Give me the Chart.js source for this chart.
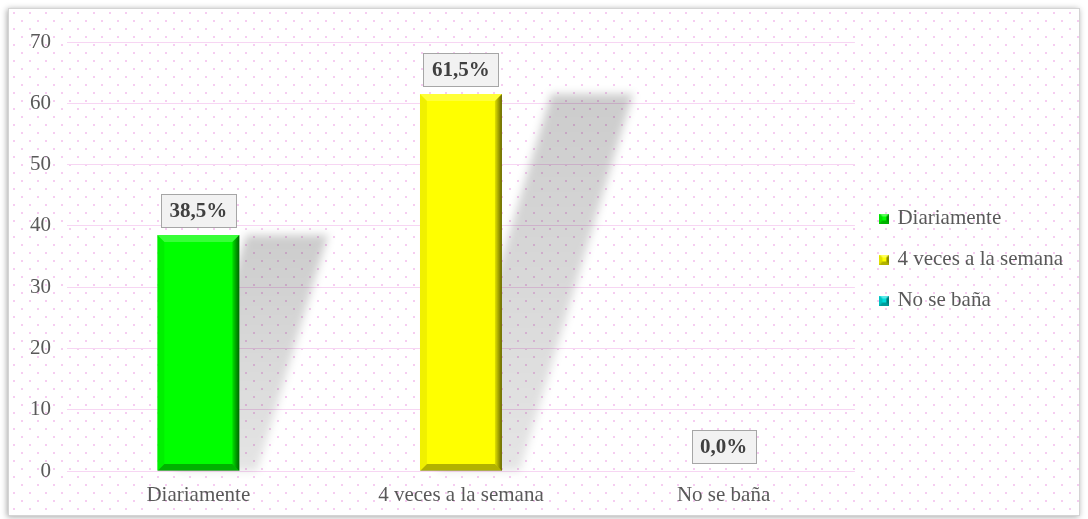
<!DOCTYPE html>
<html><head><meta charset="utf-8">
<script src="https://cdn.jsdelivr.net/npm/chart.js@4.4.1/dist/chart.umd.min.js"></script>
<style>html,body{margin:0;padding:0;background:#fff;}canvas{display:block}</style>
</head><body>
<canvas id="c" width="1088" height="519"></canvas>
<script>
const categories = ['Diariamente', '4 veces a la semana', 'No se baña'];
const values = [38.5, 61.5, 0.0];
const barColors = ['#00ff00', '#ffff00', '#00dede'];
const yMin = 0, yMax = 70, yStep = 10;

const FONT = "'Liberation Serif', 'Times New Roman', serif";
Chart.defaults.font.family = FONT;
Chart.defaults.font.size = 21;
Chart.defaults.color = '#595959';

function fmt(v) { return v.toFixed(1).replace('.', ',') + '%'; }

function markerImage(color) {
  const c = document.createElement('canvas');
  c.width = 10; c.height = 10;
  const g = c.getContext('2d');
  g.fillStyle = color; g.fillRect(0, 0, 10, 10);
  g.fillStyle = 'rgba(255,255,255,0.35)';
  g.beginPath(); g.moveTo(0,0); g.lineTo(10,0); g.lineTo(7,3); g.lineTo(3,3); g.fill();
  g.fillStyle = 'rgba(0,0,0,0.45)';
  g.beginPath(); g.moveTo(10,0); g.lineTo(10,10); g.lineTo(7,7); g.lineTo(7,3); g.fill();
  g.fillStyle = 'rgba(0,0,0,0.3)';
  g.beginPath(); g.moveTo(0,10); g.lineTo(10,10); g.lineTo(7,7); g.lineTo(3,7); g.fill();
  g.fillStyle = 'rgba(0,0,0,0.12)';
  g.beginPath(); g.moveTo(0,0); g.lineTo(3,3); g.lineTo(3,7); g.lineTo(0,10); g.fill();
  return c;
}
const markers = barColors.map(markerImage);

const framePlugin = {
  id: 'frame',
  beforeDraw(chart) {
    const ctx = chart.ctx, W = chart.width, H = chart.height;
    ctx.save();
    ctx.fillStyle = '#fff'; ctx.fillRect(0, 0, W, H);
    ctx.shadowColor = 'rgba(0,0,0,0.35)'; ctx.shadowBlur = 6; ctx.shadowOffsetX = -1; ctx.shadowOffsetY = 1;
    ctx.fillRect(8, 8, W - 16, H - 11);
    ctx.shadowColor = 'transparent';
    ctx.fillStyle = '#f6cdf1';
    let row = 0;
    for (let y = 12; y < H - 4; y += 8, row++) {
      for (let x = 13 + (row % 2 ? 8 : 0); x < W - 9; x += 16) ctx.fillRect(x, y, 2, 2);
    }
    ctx.strokeStyle = '#d4d4d4'; ctx.lineWidth = 1;
    ctx.strokeRect(8.5, 8.5, W - 17, H - 12);
    ctx.restore();
  }
};

const shadowPlugin = {
  id: 'barShadow',
  beforeDatasetsDraw(chart) {
    const ctx = chart.ctx;
    const base = chart.scales.y.getPixelForValue(0);
    ctx.save();
    ctx.filter = 'blur(4px)';
    chart.getDatasetMeta(0).data.forEach(bar => {
      const p = bar.getProps(['x', 'y', 'width'], true);
      const h = base - p.y;
      if (h < 2) return;
      const k = 0.3, off = 18;
      const l = p.x - p.width / 2 + off, r = p.x + p.width / 2 + off;
      const grad = ctx.createLinearGradient(0, p.y, 0, base);
      grad.addColorStop(0, 'rgba(0,0,0,0.2)');
      grad.addColorStop(1, 'rgba(0,0,0,0.1)');
      ctx.fillStyle = grad;
      ctx.beginPath();
      ctx.moveTo(l, base); ctx.lineTo(l + k * h, p.y); ctx.lineTo(r + k * h, p.y); ctx.lineTo(r, base);
      ctx.closePath(); ctx.fill();
    });
    ctx.restore();
  }
};

const bevelLabelPlugin = {
  id: 'bevelLabels',
  afterDatasetsDraw(chart) {
    const ctx = chart.ctx;
    const base = chart.scales.y.getPixelForValue(0);
    ctx.save();
    chart.getDatasetMeta(0).data.forEach((bar, i) => {
      const p = bar.getProps(['x', 'y', 'width'], true);
      const L = p.x - p.width / 2, R = p.x + p.width / 2, T = p.y, B = base;
      const h = B - T;
      if (h > 2) {
        const b = Math.min(7, h / 2, p.width / 2);
        ctx.fillStyle = 'rgba(255,255,255,0.22)';
        ctx.beginPath(); ctx.moveTo(L, T); ctx.lineTo(R, T); ctx.lineTo(R - b, T + b); ctx.lineTo(L + b, T + b); ctx.closePath(); ctx.fill();
        ctx.fillStyle = 'rgba(0,0,0,0.06)';
        ctx.beginPath(); ctx.moveTo(L, T); ctx.lineTo(L + b, T + b); ctx.lineTo(L + b, B - b); ctx.lineTo(L, B); ctx.closePath(); ctx.fill();
        const g = ctx.createLinearGradient(R - b, 0, R, 0);
        g.addColorStop(0, 'rgba(0,0,0,0.12)'); g.addColorStop(1, 'rgba(0,0,0,0.6)');
        ctx.fillStyle = g;
        ctx.beginPath(); ctx.moveTo(R, T); ctx.lineTo(R, B); ctx.lineTo(R - b, B - b); ctx.lineTo(R - b, T + b); ctx.closePath(); ctx.fill();
        ctx.fillStyle = 'rgba(0,0,0,0.3)';
        ctx.beginPath(); ctx.moveTo(L, B); ctx.lineTo(R, B); ctx.lineTo(R - b, B - b); ctx.lineTo(L + b, B - b); ctx.closePath(); ctx.fill();
      }
      const text = fmt(values[i]);
      ctx.font = 'bold 21px ' + FONT;
      const tw = ctx.measureText(text).width;
      const bw = Math.round(tw + 17), bh = 33;
      const bx = Math.round(p.x - bw / 2) + 0.5, by = Math.round(T - 8 - bh) + 0.5;
      ctx.fillStyle = '#f2f2f2'; ctx.fillRect(bx, by, bw, bh);
      ctx.strokeStyle = '#a6a6a6'; ctx.lineWidth = 1; ctx.strokeRect(bx, by, bw, bh);
      ctx.fillStyle = '#404040'; ctx.textAlign = 'center'; ctx.textBaseline = 'middle';
      ctx.fillText(text, p.x, by + bh / 2 + 1);
    });
    ctx.restore();
  }
};

const legendShift = {
  id: 'legendShift',
  afterLayout(chart) {
    const lg = chart.legend;
    if (lg) { lg.left += 7; lg.right += 7; lg.top -= 21; lg.bottom -= 21; }
  }
};

new Chart(document.getElementById('c'), {
  type: 'bar',
  data: {
    labels: categories,
    datasets: [{
      data: values,
      backgroundColor: barColors,
      borderWidth: 0,
      categoryPercentage: 1,
      barPercentage: 0.312
    }]
  },
  options: {
    responsive: false,
    animation: false,
    events: [],
    layout: { padding: { left: 18, right: 22, top: 42, bottom: 0 } },
    plugins: {
      tooltip: { enabled: false },
      legend: {
        position: 'right',
        labels: {
          font: { family: FONT, size: 21 },
          color: '#595959',
          padding: 20,
          usePointStyle: true,
          pointStyleWidth: 5,
          generateLabels() {
            return categories.map((c, i) => ({
              text: c, pointStyle: markers[i], fillStyle: barColors[i],
              strokeStyle: barColors[i], lineWidth: 0, hidden: false, index: i, datasetIndex: 0,
              fontColor: '#595959'
            }));
          }
        }
      }
    },
    scales: {
      x: {
        afterFit(scale) { scale.height = 48; },
        grid: { display: false, drawTicks: false },
        border: { display: false },
        ticks: { font: { family: FONT, size: 21 }, color: '#595959', padding: 12, maxRotation: 0 }
      },
      y: {
        min: yMin, max: yMax,
        afterFit(scale) { scale.width = 49; },
        grid: { color: '#f7d6f3', lineWidth: 1, drawTicks: false },
        border: { display: false },
        ticks: { stepSize: yStep, font: { family: FONT, size: 21 }, color: '#595959', padding: 16 }
      }
    }
  },
  plugins: [framePlugin, shadowPlugin, bevelLabelPlugin, legendShift]
});
</script>
</body></html>
